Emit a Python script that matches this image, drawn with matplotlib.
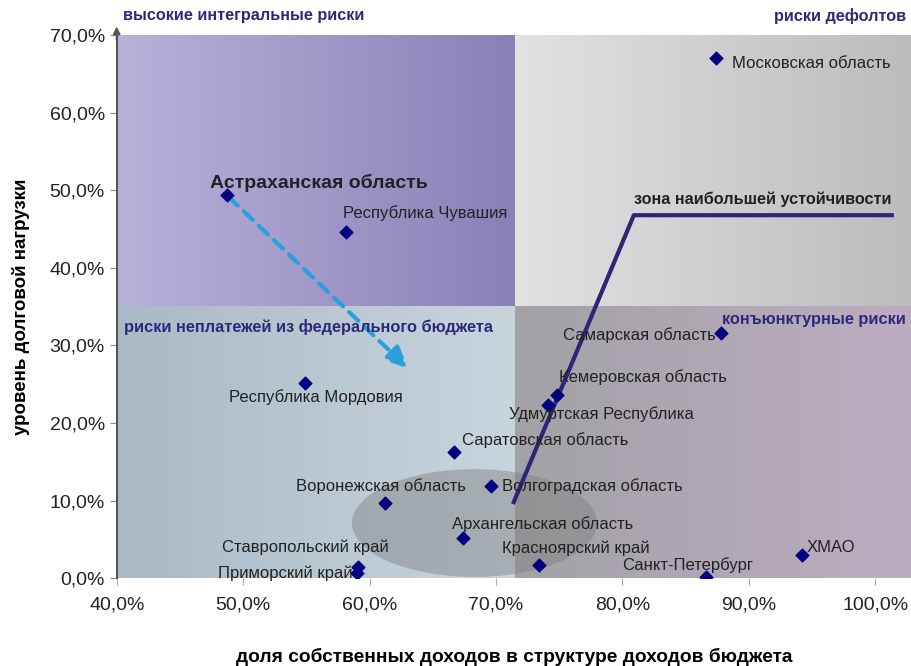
import matplotlib.pyplot as plt
import numpy as np
from matplotlib.colors import LinearSegmentedColormap
from matplotlib.patches import Ellipse
from matplotlib.ticker import FuncFormatter

plt.rcParams['font.family'] = ['Liberation Sans', 'DejaVu Sans']

# regions: share of own revenues (%) and debt load (%)
regions = ["Астраханская область", "Республика Чувашия", "Московская область",
           "Самарская область", "Кемеровская область", "Удмуртская Республика",
           "Саратовская область", "Республика Мордовия", "Волгоградская область",
           "Воронежская область", "Архангельская область", "Ставропольский край",
           "Приморский край", "Красноярский край", "Санкт-Петербург", "ХМАО"]
own_income = [48.7, 58.1, 87.4, 87.8, 74.8, 74.1, 66.7, 54.9, 69.6,
              61.2, 67.4, 59.1, 59.0, 73.4, 86.6, 94.2]
debt_load = [49.4, 44.6, 67.1, 31.6, 23.6, 22.3, 16.2, 25.1, 11.9,
             9.7, 5.2, 1.4, 0.6, 1.7, 0.2, 3.0]

# label positions (left edge x, center y) for each region
label_x = [47.4, 57.9, 88.7, 75.3, 75.0, 71.0, 67.3, 48.9, 70.5,
           54.2, 66.5, 48.3, 48.0, 70.5, 80.0, 94.6]
label_y = [51.0, 47.1, 66.3, 31.3, 25.9, 21.1, 17.8, 23.3, 11.9,
           11.9, 7.0, 4.0, 0.6, 3.8, 1.7, 4.0]

# "зона наибольшей устойчивости" boundary
zone_x = [71.4, 80.9, 101.3]
zone_y = [9.8, 46.8, 46.8]

# quadrant split
x_split = 71.5
y_split = 35.0
x_min, x_max = 40.0, 102.9
y_min, y_max = 0.0, 70.0

fig = plt.figure(figsize=(9.12, 6.66), dpi=100)
ax = fig.add_axes([0.128, 0.132, 0.872, 0.815])


def gradient(c1, c2, extent):
    cmap = LinearSegmentedColormap.from_list("g", [c1, c2])
    g = np.linspace(0, 1, 256).reshape(1, -1)
    ax.imshow(g, cmap=cmap, extent=extent, aspect='auto', zorder=0)


gradient('#b9b1d9', '#8a80b8', [x_min, x_split, y_split, y_max])
gradient('#e2e2e2', '#bcbcbc', [x_split, x_max, y_split, y_max])
gradient('#a9b9c5', '#c9d5dd', [x_min, x_split, y_min, y_split])
gradient('#a2a2a6', '#bdadc1', [x_split, x_max, y_min, y_split])

ell = Ellipse((68.3, 7.1), 19.4, 13.9, facecolor='#808080', alpha=0.45,
              edgecolor='none', zorder=1)
ax.add_patch(ell)

ax.plot(zone_x, zone_y, color='#2e2478', lw=3, zorder=2)

ax.annotate("", xy=(63.2, 26.8), xytext=(own_income[0], debt_load[0]),
            arrowprops=dict(arrowstyle='-|>,head_length=1.3,head_width=0.6',
                            color='#27a0dc', lw=3, linestyle=(0, (3, 2))),
            zorder=2)

ax.scatter(own_income, debt_load, marker='D', s=42, color='#000080', zorder=4)

for i, name in enumerate(regions):
    if i == 0:
        ax.text(label_x[i], label_y[i], name, fontsize=14, fontweight='bold',
                color='#222222', va='center', ha='left', zorder=5)
    else:
        ax.text(label_x[i], label_y[i], name, fontsize=12, color='#222222',
                va='center', ha='left', zorder=5)

ax.text(80.9, 48.8, "зона наибольшей устойчивости", fontsize=11.7,
        fontweight='bold', color='#222222', va='center', ha='left', zorder=5)

navy = '#2d2a7c'
ax.text(40.5, 72.5, "высокие интегральные риски", fontsize=11.7, fontweight='bold',
        color=navy, va='center', ha='left', clip_on=False)
ax.text(102.4, 72.5, "риски дефолтов", fontsize=11.7, fontweight='bold',
        color=navy, va='center', ha='right', clip_on=False)
ax.text(40.6, 32.4, "риски неплатежей из федерального бюджета", fontsize=11.8,
        fontweight='bold', color=navy, va='center', ha='left', zorder=5)
ax.text(102.4, 33.3, "конъюнктурные риски", fontsize=11.8, fontweight='bold',
        color=navy, va='center', ha='right', zorder=5)

ax.set_xlim(x_min, x_max)
ax.set_ylim(y_min, y_max)
ax.set_xticks([40, 50, 60, 70, 80, 90, 100])
ax.set_yticks([0, 10, 20, 30, 40, 50, 60, 70])
fmt = FuncFormatter(lambda v, p: ("%.1f%%" % v).replace('.', ','))
ax.xaxis.set_major_formatter(fmt)
ax.yaxis.set_major_formatter(fmt)
ax.tick_params(labelsize=14, colors='#222222')
ax.tick_params(axis='x', color='#aaaaaa', length=5, pad=8)
ax.tick_params(axis='y', color='#888888', length=5)

for s in ['top', 'right', 'bottom']:
    ax.spines[s].set_visible(False)
ax.spines['left'].set_color('#555555')
ax.spines['left'].set_linewidth(1.5)
ax.annotate("", xy=(x_min, 71.5), xytext=(x_min, 69.0),
            arrowprops=dict(arrowstyle='-|>', color='#555555', lw=1.5),
            annotation_clip=False)

ax.set_xlabel("доля собственных доходов в структуре доходов бюджета",
              fontsize=13.8, fontweight='bold', labelpad=25)
ax.set_ylabel("уровень долговой нагрузки", fontsize=13.5, fontweight='bold',
              labelpad=14)

plt.savefig('out.png', dpi=100)
